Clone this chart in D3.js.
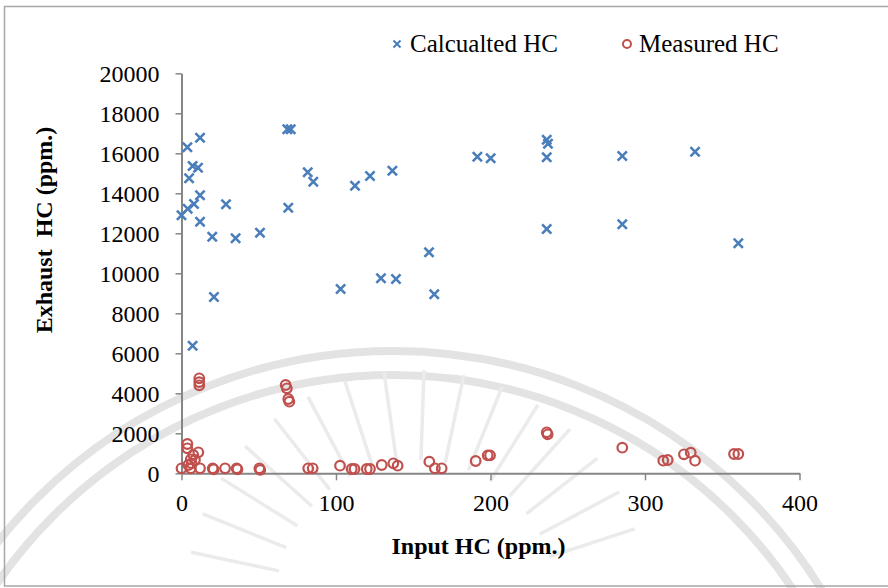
<!DOCTYPE html>
<html><head><meta charset="utf-8">
<script src="https://cdn.jsdelivr.net/npm/d3@7"></script>
<style>
html,body{margin:0;padding:0;background:#fff;}
svg{display:block;font-family:"Liberation Serif","DejaVu Serif",serif;}
</style></head>
<body>
<svg id="chart" width="888" height="588"></svg>
<script>
// ---- data ----
const calcX = [0, 3.8, 12, 7.2, 10.7, 4.9, 12, 8.1, 4, 12, 28.8, 19.9, 35, 50.8, 69.1, 68.5, 70.7, 81.7, 85.3, 7.2, 21, 112.3, 122, 136.5, 160.2, 129.1, 138.8, 103, 163.6, 191.5, 200.1, 236.4, 237.2, 236.4, 236.4, 285.3, 332.4, 285.3, 360.4];
const calcY = [12900, 16300, 16780, 15365, 15280, 14750, 13900, 13465, 13230, 12580, 13450, 11830, 11750, 12030, 13280, 17200, 17200, 15050, 14580, 6380, 8815, 14380, 14865, 15130, 11050, 9750, 9715, 9215, 8950, 15830, 15750, 16680, 16480, 15800, 12215, 15865, 16080, 12450, 11500];

const measX = [0, 6, 12, 20.2, 20.8, 28.2, 35.7, 36.2, 50.4, 51, 3.8, 3.8, 10.9, 7.6, 6, 8.7, 4.4, 6.6, 11.5, 11.5, 11.5, 67.4, 68.2, 69.1, 69.8, 82, 84.9, 102.6, 110.2, 112, 119.9, 122, 129.6, 137.1, 139.9, 160.4, 164, 168.4, 190.4, 198.2, 199.7, 236.4, 237, 285.3, 311.8, 314.7, 325.2, 329.6, 332.4, 357.6, 360.4];
const measY = [250, 250, 250, 250, 200, 250, 250, 200, 250, 170, 1465, 1250, 1050, 915, 700, 665, 415, 500, 4750, 4560, 4400, 4415, 4250, 3715, 3580, 250, 250, 380, 215, 215, 215, 215, 415, 500, 380, 580, 250, 250, 615, 900, 900, 2050, 1950, 1280, 630, 665, 950, 1030, 630, 965, 965];

const xTicks = [0, 100, 200, 300, 400];
const yTicks = [0, 2000, 4000, 6000, 8000, 10000, 12000, 14000, 16000, 18000, 20000];
const seriesNames = ["Calcualted HC", "Measured HC"];
const xTitle = "Input HC (ppm.)";
const yTitle = "Exhaust\u00a0 HC (ppm.)";

// ---- layout ----
const svg = d3.select("#chart");
const L = 181.5, R = 799.5, T = 73.3, B = 473.3;
const blue = "#4a7ebb", red = "#c0504d", axisCol = "#868686";
const FS = 24;
const FF = "'Liberation Serif','DejaVu Serif',serif";

// watermark (faint seal)
const wm = svg.append("g").attr("fill", "none");
const wc = [393, 855];
[[480, 8], [504, 8]].forEach(([r, w]) => {
  wm.append("circle").attr("cx", wc[0]).attr("cy", wc[1]).attr("r", r)
    .attr("stroke", "#e3e3e3").attr("stroke-width", w);
});
const rc = [416, 600];
d3.range(-168, -10, 10).forEach(a => {
  const rad = a * Math.PI / 180;
  wm.append("line")
    .attr("x1", rc[0] + 140 * Math.cos(rad)).attr("y1", rc[1] + 140 * Math.sin(rad))
    .attr("x2", rc[0] + 230 * Math.cos(rad)).attr("y2", rc[1] + 230 * Math.sin(rad))
    .attr("stroke-width", 3.5).attr("stroke", "#ebebeb");
});

// frame
svg.append("rect").attr("x", 4.5).attr("y", 6.5).attr("width", 900).attr("height", 579.5)
  .attr("fill", "none").attr("stroke", "#a6a6a6").attr("stroke-width", 1.5);

const x = d3.scaleLinear().domain([0, 400]).range([L, R]);
const y = d3.scaleLinear().domain([0, 20000]).range([B, T]);

// axes
const gy = svg.append("g").attr("transform", `translate(${L},0)`)
  .call(d3.axisLeft(y).tickValues(yTicks).tickSize(6).tickSizeOuter(0).tickPadding(16).tickFormat(d3.format("d")));
const gx = svg.append("g").attr("transform", `translate(0,${B})`)
  .call(d3.axisBottom(x).tickValues(xTicks).tickSize(7).tickSizeOuter(0).tickFormat(d3.format("d")));
[gx, gy].forEach(g => {
  g.select(".domain").attr("stroke", axisCol).attr("stroke-width", 2);
  g.selectAll(".tick line").attr("stroke", axisCol).attr("stroke-width", 1.5);
  g.selectAll("text").attr("fill", "#000").attr("font-size", FS).attr("font-family", FF);
});
gx.selectAll(".tick text").attr("dy", null).attr("y", 38);
gy.selectAll(".tick text").attr("dy", "0.35em");

// titles
svg.append("text").attr("x", (L + R) / 2 - 12).attr("y", 554).attr("text-anchor", "middle")
  .attr("font-family", FF).attr("font-size", FS).attr("font-weight", "bold").text(xTitle);
svg.append("text").attr("transform", "translate(52,230) rotate(-90)").attr("text-anchor", "middle")
  .attr("font-family", FF).attr("font-size", FS).attr("font-weight", "bold").text(yTitle);

// markers
const xMark = (g, cx, cy, s, w) => {
  g.append("path").attr("d", `M${cx - s},${cy - s}L${cx + s},${cy + s}M${cx - s},${cy + s}L${cx + s},${cy - s}`)
    .attr("stroke", blue).attr("stroke-width", w).attr("fill", "none");
};
const calc = svg.append("g");
calcX.forEach((v, i) => xMark(calc, x(v), y(calcY[i]), 4.6, 2.6));

svg.append("g").selectAll("circle").data(measX).join("circle")
  .attr("cx", d => x(d)).attr("cy", (d, i) => y(measY[i])).attr("r", 4.8)
  .attr("fill", "none").attr("stroke", red).attr("stroke-width", 2.2);

// legend
const lg = svg.append("g");
xMark(lg, 397, 44, 3.5, 2);
lg.append("circle").attr("cx", 627).attr("cy", 44).attr("r", 4).attr("fill", "none").attr("stroke", red).attr("stroke-width", 2);
lg.append("text").attr("x", 410).attr("y", 52).attr("font-family", FF).attr("font-size", 25).text(seriesNames[0]);
lg.append("text").attr("x", 639).attr("y", 52).attr("font-family", FF).attr("font-size", 25).text(seriesNames[1]);
</script>
</body></html>
